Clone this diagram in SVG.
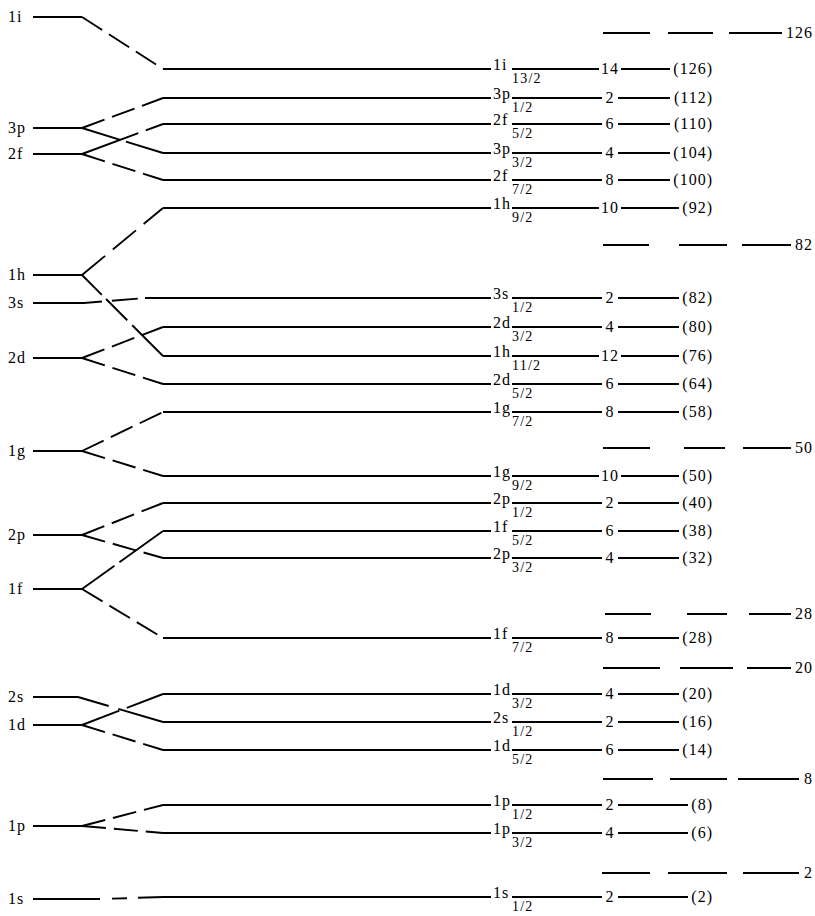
<svg xmlns="http://www.w3.org/2000/svg" width="815" height="916" viewBox="0 0 815 916">
<defs>
<style>
.ln{stroke:#000;stroke-width:1.9;fill:none;stroke-linecap:butt}
.d{stroke-dasharray:24 8}
.t{font-family:"Liberation Serif","Times New Roman",serif;font-size:16px;letter-spacing:1px;fill:#000}
.s{font-family:"Liberation Serif","Times New Roman",serif;font-size:14px;letter-spacing:1.2px;fill:#000}
.m{text-anchor:middle}
.e{text-anchor:end}
</style>
</defs>
<rect width="815" height="916" fill="#fff"/>

<!-- left (unsplit) levels -->
<g id="L-1i"><text class="t" x="8" y="22">1i</text><path class="ln" d="M33 17H82"/></g>
<g id="L-3p"><text class="t" x="8" y="133">3p</text><path class="ln" d="M33 128H82"/></g>
<g id="L-2f"><text class="t" x="8" y="159">2f</text><path class="ln" d="M33 154H82"/></g>
<g id="L-1h"><text class="t" x="8" y="280">1h</text><path class="ln" d="M33 275H82"/></g>
<g id="L-3s"><text class="t" x="8" y="308">3s</text><path class="ln" d="M33 303H84"/></g>
<g id="L-2d"><text class="t" x="8" y="363">2d</text><path class="ln" d="M33 358H82"/></g>
<g id="L-1g"><text class="t" x="8" y="456">1g</text><path class="ln" d="M33 451H82"/></g>
<g id="L-2p"><text class="t" x="8" y="540">2p</text><path class="ln" d="M33 535H82"/></g>
<g id="L-1f"><text class="t" x="8" y="594">1f</text><path class="ln" d="M33 589H82"/></g>
<g id="L-2s"><text class="t" x="8" y="702">2s</text><path class="ln" d="M33 697H78"/></g>
<g id="L-1d"><text class="t" x="8" y="730">1d</text><path class="ln" d="M33 725H82"/></g>
<g id="L-1p"><text class="t" x="8" y="831">1p</text><path class="ln" d="M33 826H82"/></g>
<g id="L-1s"><text class="t" x="8" y="904">1s</text><path class="ln" d="M33 899H100"/></g>

<!-- connectors (splitting) -->
<g id="connectors">
<path class="ln d" d="M82 17L163 69"/>
<path class="ln d" d="M82 128L163 98"/>
<path class="ln" style="stroke-dasharray:40 6 60" d="M82 128L163 153"/>
<path class="ln" style="stroke-dasharray:60 8 40" d="M82 154L163 124"/>
<path class="ln d" d="M82 154L163 180"/>
<path class="ln" style="stroke-dasharray:30 10" d="M82 275L163 208"/>
<path class="ln" style="stroke-dasharray:28 6 30 7 60" d="M82 275L163 356"/>
<path class="ln" style="stroke-dasharray:18 10 26 10 40" d="M84 303L145 298"/>
<path class="ln d" d="M82 358L163 327"/>
<path class="ln d" d="M82 358L163 384"/>
<path class="ln d" d="M82 451L163 412"/>
<path class="ln d" d="M82 451L163 476"/>
<path class="ln d" d="M82 535L163 503"/>
<path class="ln d" d="M82 535L163 558"/>
<path class="ln" style="stroke-dasharray:40 6 60" d="M82 589L163 531"/>
<path class="ln d" d="M82 589L163 638"/>
<path class="ln" style="stroke-dasharray:32 10 60" d="M78 697L163 722"/>
<path class="ln" style="stroke-dasharray:40 8 60" d="M82 725L163 694"/>
<path class="ln d" d="M82 725L163 750"/>
<path class="ln d" d="M82 826L163 805"/>
<path class="ln d" d="M82 826L163 833"/>
<path class="ln" d="M112 898.6L127 898.2M138 897.8L163 897"/>
</g>

<!-- split levels -->
<g id="R-1i13">
<path class="ln" d="M163 69H491M512 69H599M621 69H670"/>
<text class="t" x="493" y="70">1i</text><text class="s" x="512" y="83">13/2</text>
<text class="t m" x="610" y="74">14</text><text class="t e" x="713" y="74">(126)</text>
</g>
<g id="R-3p1">
<path class="ln" d="M163 98H491M512 98H602M618 98H670"/>
<text class="t" x="493" y="99">3p</text><text class="s" x="512" y="112">1/2</text>
<text class="t m" x="610" y="103">2</text><text class="t e" x="713" y="103">(112)</text>
</g>
<g id="R-2f5">
<path class="ln" d="M163 124H491M512 124H602M618 124H670"/>
<text class="t" x="493" y="125">2f</text><text class="s" x="512" y="138">5/2</text>
<text class="t m" x="610" y="129">6</text><text class="t e" x="713" y="129">(110)</text>
</g>
<g id="R-3p3">
<path class="ln" d="M163 153H491M512 153H602M618 153H670"/>
<text class="t" x="493" y="154">3p</text><text class="s" x="512" y="167">3/2</text>
<text class="t m" x="610" y="158">4</text><text class="t e" x="713" y="158">(104)</text>
</g>
<g id="R-2f7">
<path class="ln" d="M163 180H491M512 180H602M618 180H670"/>
<text class="t" x="493" y="181">2f</text><text class="s" x="512" y="194">7/2</text>
<text class="t m" x="610" y="185">8</text><text class="t e" x="713" y="185">(100)</text>
</g>
<g id="R-1h9">
<path class="ln" d="M163 208H491M512 208H599M621 208H679"/>
<text class="t" x="493" y="209">1h</text><text class="s" x="512" y="222">9/2</text>
<text class="t m" x="610" y="213">10</text><text class="t e" x="713" y="213">(92)</text>
</g>
<g id="R-3s1">
<path class="ln" d="M145 298H491M512 298H602M618 298H679"/>
<text class="t" x="493" y="299">3s</text><text class="s" x="512" y="312">1/2</text>
<text class="t m" x="610" y="303">2</text><text class="t e" x="713" y="303">(82)</text>
</g>
<g id="R-2d3">
<path class="ln" d="M163 327H491M512 327H602M618 327H679"/>
<text class="t" x="493" y="328">2d</text><text class="s" x="512" y="341">3/2</text>
<text class="t m" x="610" y="332">4</text><text class="t e" x="713" y="332">(80)</text>
</g>
<g id="R-1h11">
<path class="ln" d="M163 356H491M512 356H599M621 356H679"/>
<text class="t" x="493" y="357">1h</text><text class="s" x="512" y="370">11/2</text>
<text class="t m" x="610" y="361">12</text><text class="t e" x="713" y="361">(76)</text>
</g>
<g id="R-2d5">
<path class="ln" d="M163 384H491M512 384H602M618 384H679"/>
<text class="t" x="493" y="385">2d</text><text class="s" x="512" y="398">5/2</text>
<text class="t m" x="610" y="389">6</text><text class="t e" x="713" y="389">(64)</text>
</g>
<g id="R-1g7">
<path class="ln" d="M163 412H491M512 412H602M618 412H679"/>
<text class="t" x="493" y="413">1g</text><text class="s" x="512" y="426">7/2</text>
<text class="t m" x="610" y="417">8</text><text class="t e" x="713" y="417">(58)</text>
</g>
<g id="R-1g9">
<path class="ln" d="M163 476H491M512 476H599M621 476H679"/>
<text class="t" x="493" y="477">1g</text><text class="s" x="512" y="490">9/2</text>
<text class="t m" x="610" y="481">10</text><text class="t e" x="713" y="481">(50)</text>
</g>
<g id="R-2p1">
<path class="ln" d="M163 503H491M512 503H602M618 503H679"/>
<text class="t" x="493" y="504">2p</text><text class="s" x="512" y="517">1/2</text>
<text class="t m" x="610" y="508">2</text><text class="t e" x="713" y="508">(40)</text>
</g>
<g id="R-1f5">
<path class="ln" d="M163 531H491M512 531H602M618 531H679"/>
<text class="t" x="493" y="532">1f</text><text class="s" x="512" y="545">5/2</text>
<text class="t m" x="610" y="536">6</text><text class="t e" x="713" y="536">(38)</text>
</g>
<g id="R-2p3">
<path class="ln" d="M163 558H491M512 558H602M618 558H679"/>
<text class="t" x="493" y="559">2p</text><text class="s" x="512" y="572">3/2</text>
<text class="t m" x="610" y="563">4</text><text class="t e" x="713" y="563">(32)</text>
</g>
<g id="R-1f7">
<path class="ln" d="M163 638H491M512 638H602M618 638H679"/>
<text class="t" x="493" y="639">1f</text><text class="s" x="512" y="652">7/2</text>
<text class="t m" x="610" y="643">8</text><text class="t e" x="713" y="643">(28)</text>
</g>
<g id="R-1d3">
<path class="ln" d="M163 694H491M512 694H602M618 694H679"/>
<text class="t" x="493" y="695">1d</text><text class="s" x="512" y="708">3/2</text>
<text class="t m" x="610" y="699">4</text><text class="t e" x="713" y="699">(20)</text>
</g>
<g id="R-2s1">
<path class="ln" d="M163 722H491M512 722H602M618 722H679"/>
<text class="t" x="493" y="723">2s</text><text class="s" x="512" y="736">1/2</text>
<text class="t m" x="610" y="727">2</text><text class="t e" x="713" y="727">(16)</text>
</g>
<g id="R-1d5">
<path class="ln" d="M163 750H491M512 750H602M618 750H679"/>
<text class="t" x="493" y="751">1d</text><text class="s" x="512" y="764">5/2</text>
<text class="t m" x="610" y="755">6</text><text class="t e" x="713" y="755">(14)</text>
</g>
<g id="R-1p1">
<path class="ln" d="M163 805H491M512 805H602M618 805H688"/>
<text class="t" x="493" y="806">1p</text><text class="s" x="512" y="819">1/2</text>
<text class="t m" x="610" y="810">2</text><text class="t e" x="713" y="810">(8)</text>
</g>
<g id="R-1p3">
<path class="ln" d="M163 833H491M512 833H602M618 833H688"/>
<text class="t" x="493" y="834">1p</text><text class="s" x="512" y="847">3/2</text>
<text class="t m" x="610" y="838">4</text><text class="t e" x="713" y="838">(6)</text>
</g>
<g id="R-1s1">
<path class="ln" d="M163 897H491M512 897H602M618 897H688"/>
<text class="t" x="493" y="898">1s</text><text class="s" x="512" y="911">1/2</text>
<text class="t m" x="610" y="902">2</text><text class="t e" x="713" y="902">(2)</text>
</g>

<!-- magic number shell closures -->
<g id="gap-126"><path class="ln" d="M603 33H650M668 33H713M729 33H782"/><text class="t e" x="813" y="38">126</text></g>
<g id="gap-82"><path class="ln" d="M603 245H649M679 245H727M742 245H791"/><text class="t e" x="813" y="250">82</text></g>
<g id="gap-50"><path class="ln" d="M603 448H650M684 448H725M743 448H791"/><text class="t e" x="813" y="453">50</text></g>
<g id="gap-28"><path class="ln" d="M605 614H651M687 614H727M749 614H791"/><text class="t e" x="813" y="619">28</text></g>
<g id="gap-20"><path class="ln" d="M603 668H660M680 668H733M747 668H791"/><text class="t e" x="813" y="673">20</text></g>
<g id="gap-8"><path class="ln" d="M603 779H653M670 779H727M738 779H799"/><text class="t e" x="813" y="784">8</text></g>
<g id="gap-2"><path class="ln" d="M602 873H650M668 873H727M743 873H799"/><text class="t e" x="813" y="878">2</text></g>
</svg>
